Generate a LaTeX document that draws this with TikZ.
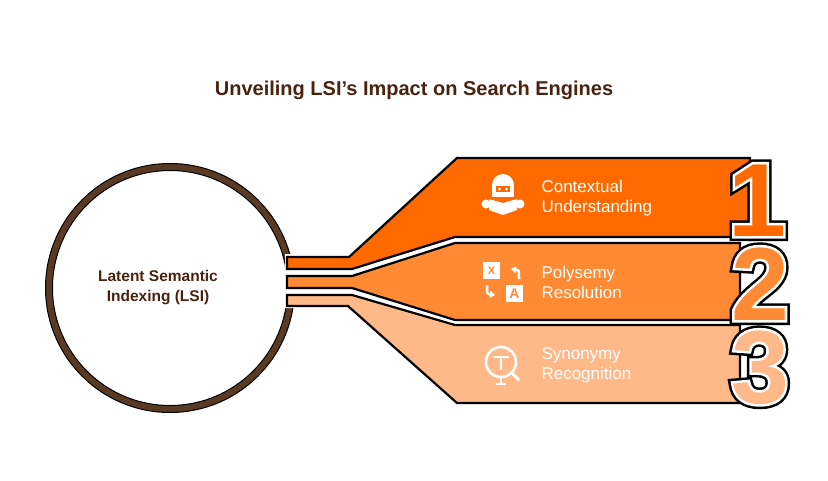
\documentclass[tikz,border=0pt]{standalone}
\usepackage{fontspec}
\setmainfont{Liberation Sans}
\usetikzlibrary{arrows.meta}
\definecolor{bA}{HTML}{FF6A00}
\definecolor{bB}{HTML}{FF8A33}
\definecolor{bC}{HTML}{FFB888}
\definecolor{brn}{HTML}{5A3A22}
\definecolor{ttl}{HTML}{4A2210}
\newcommand{\strk}[3]{\special{pdf:literal 1 Tr #1 w #2 RG}#3\special{pdf:literal 0 Tr}}
\begin{document}
\begin{tikzpicture}[x=1pt,y=-1pt,
  band/.style={draw=black,line width=2.2pt,line join=miter},
  lbl/.style={text=white,font=\fontsize{17}{20}\selectfont,align=left,anchor=west},
  num/.style={font=\fontsize{104}{104}\selectfont\bfseries,anchor=base,inner sep=0pt,text height=60pt,text depth=0pt}]
\useasboundingbox (0,0) rectangle (828,480);
\node[font=\fontsize{20}{24}\selectfont\bfseries,text=ttl] (title) at (414,90) {Unveiling LSI's Impact on Search Engines};
% circle
\draw[brn,line width=7pt] (170,288) circle (121);
\draw[black,line width=1pt] (170,288) circle (124.5);
\draw[black,line width=1pt] (170,288) circle (117.5);
\node[text=ttl,font=\fontsize{15.5}{20}\selectfont\bfseries,align=center] (lsi) at (158,288) {Latent Semantic\\Indexing (LSI)};
% bands
\fill[white] (285,254) -- (348,254) -- (455,156) -- (760,156) -- (760,407) -- (455,407) -- (348,308) -- (285,308) -- cycle;
\draw[band,fill=bC] (287,295) -- (352,295) -- (455,325) -- (740,325) -- (740,403) -- (457,403) -- (348,306) -- (287,306) -- cycle;
\draw[band,fill=bB] (287,276) -- (352,276) -- (455,243) -- (740,243) -- (740,320) -- (455,320) -- (352,288) -- (287,288) -- cycle;
\draw[band,fill=bA] (287,257) -- (349,257) -- (457,158) -- (750,158) -- (750,237) -- (455,237) -- (352,269) -- (287,269) -- cycle;
% numbers
\foreach \d/\c/\x/\y in {1/bA/757/236, 2/bB/760/320, 3/bC/760/403}{
  \node[num] (nk\d) at (\x,\y) {\strk{10}{0 0 0}{\d}};
  \node[num] (nw\d) at (\x,\y) {\strk{5}{1 1 1}{\d}};
  \node[num,text=\c] (n\d) at (\x,\y) {\d};
}
% labels
\node[lbl] (l1) at (538,198) {Contextual\\Understanding};
\node[lbl] (l2) at (538,282) {Polysemy\\Resolution};
\node[lbl] (l3) at (538,365) {Synonymy\\Recognition};
% icon 1: reader
\begin{scope}[shift={(503,197)}]
\fill[white] (0,-12) circle (11);
\fill[white] (-11,-12) rectangle (11,0);
\fill[bA] (-7,-11) rectangle (7,-5);
\fill[white] (-3.5,-8) circle (1.5) (3.5,-8) circle (1.5);
\fill[white] (-14,2) -- (0,6) -- (14,2) -- (14,13) -- (0,18) -- (-14,13) -- cycle;
\fill[white] (-17,7) circle (4.5) (17,7) circle (4.5);
\end{scope}
% icon 2: translate
\begin{scope}[shift={(503,282)}]
\fill[white] (-20,-20) rectangle (-3,-3);
\node[text=bB,font=\fontsize{11}{11}\selectfont\bfseries] (zh) at (-11.5,-11.5) {X};
\fill[white] (3,3) rectangle (20,20);
\node[text=bB,font=\fontsize{14}{14}\selectfont\bfseries] (aa) at (11.5,11.5) {A};
\draw[white,line width=2.5pt,-{Triangle[length=5pt,width=7pt]}] (16,-3) .. controls (16,-12) .. (8,-13);
\draw[white,line width=2.5pt,-{Triangle[length=5pt,width=7pt]}] (-16,3) .. controls (-16,12) .. (-8,13);
\end{scope}
% icon 3: magnifier T
\begin{scope}[shift={(503,364)}]
\draw[white,line width=2.6pt] (-2,-2) circle (15);
\draw[white,line width=3pt] (8,8) -- (16,16);
\draw[white,line width=2.5pt] (-10,-7) -- (6,-7) (-2,-7) -- (-2,6);
\draw[white,line width=2.5pt] (-2,13) -- (-2,20) (-7,20) -- (3,20);
\end{scope}
\end{tikzpicture}
\end{document}
